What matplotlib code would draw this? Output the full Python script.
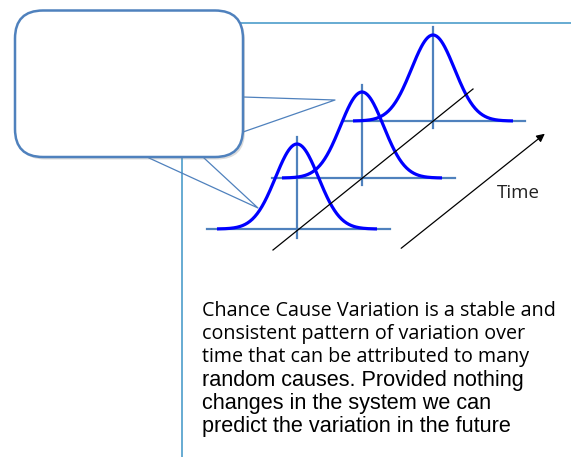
import numpy as np
import matplotlib.pyplot as plt
from matplotlib.patches import FancyBboxPatch

# bell curves: centre x, baseline y, peak y (pixel space)
curve_cx = [297, 362, 433]
curve_base = [229, 178, 121]
curve_peak = [144, 92, 35]
curve_half = 80
curve_sigma = 21.5
# baseline axis extents and vertical axis extents
hline_x = [(207, 390), (272, 455), (343, 525)]
vline_y = [(137, 238), (85, 185), (27, 128)]

text_lines_calibri = ["Chance Cause Variation is a stable and",
                      "consistent pattern of variation over",
                      "time that can be attributed to many"]
text_lines_arial = ["random causes. Provided nothing",
                    "changes in the system we can",
                    "predict the variation in the future"]

W, H = 571, 457
fig = plt.figure(figsize=(W / 100, H / 100), dpi=100)
ax = fig.add_axes([0, 0, 1, 1])
ax.set_xlim(0, W)
ax.set_ylim(H, 0)
ax.axis("off")

frame_col = "#5aa5cf"
steel = "#4f81bd"

# slide frame
ax.plot([182, 182], [23, H], color=frame_col, lw=1.3, zorder=1)
ax.plot([182, W], [23, 23], color=frame_col, lw=1.3, zorder=1)

# bell curves with their axes
for cx, base, peak, (hx0, hx1), (vy0, vy1) in zip(curve_cx, curve_base, curve_peak, hline_x, vline_y):
    ax.plot([hx0, hx1], [base, base], color=steel, lw=1.6, zorder=2)
    ax.plot([cx, cx], [vy0, vy1], color=steel, lw=1.6, zorder=2)
    xs = np.linspace(cx - curve_half, cx + curve_half, 200)
    ys = base - (base - peak) * np.exp(-0.5 * ((xs - cx) / curve_sigma) ** 2)
    ax.plot(xs, ys, color="#0000ff", lw=2.3, zorder=3, solid_capstyle="butt")

# diagonal line through the centres and the time arrow
ax.plot([273, 473], [250, 89], color="black", lw=0.9, zorder=4)
ax.annotate("", xy=(547, 132), xytext=(399, 250),
            arrowprops=dict(arrowstyle="-|>", color="black", lw=0.9, mutation_scale=12))
ax.text(497, 198, "Time", fontsize=13.5, family="Open Sans", color="#222222", va="baseline", ha="left")

# callout pointers
ax.plot([243, 335, 243], [97, 100, 132], color=steel, lw=0.9, zorder=5)
ax.plot([149, 258, 204], [158, 208, 158], color=steel, lw=0.9, zorder=5)

# callout shadow and box
shadow = FancyBboxPatch((17, 12.5), 228, 147, boxstyle="round,pad=0,rounding_size=28",
                        fc="#888888", ec="none", alpha=0.3, zorder=6)
ax.add_patch(shadow)
box = FancyBboxPatch((15, 10.5), 228, 146.5, boxstyle="round,pad=0,rounding_size=28",
                     fc="white", ec=steel, lw=1.8, zorder=7)
ax.add_patch(box)

# body text
y = 316
for line in text_lines_calibri:
    ax.text(202, y, line, fontsize=14.2, family="Open Sans", color="black", va="baseline", ha="left")
    y += 23.2
for line in text_lines_arial:
    ax.text(202, y, line, fontsize=15.6, family="Liberation Sans", color="black", va="baseline", ha="left")
    y += 23.2

fig.savefig("out.png", dpi=100)
